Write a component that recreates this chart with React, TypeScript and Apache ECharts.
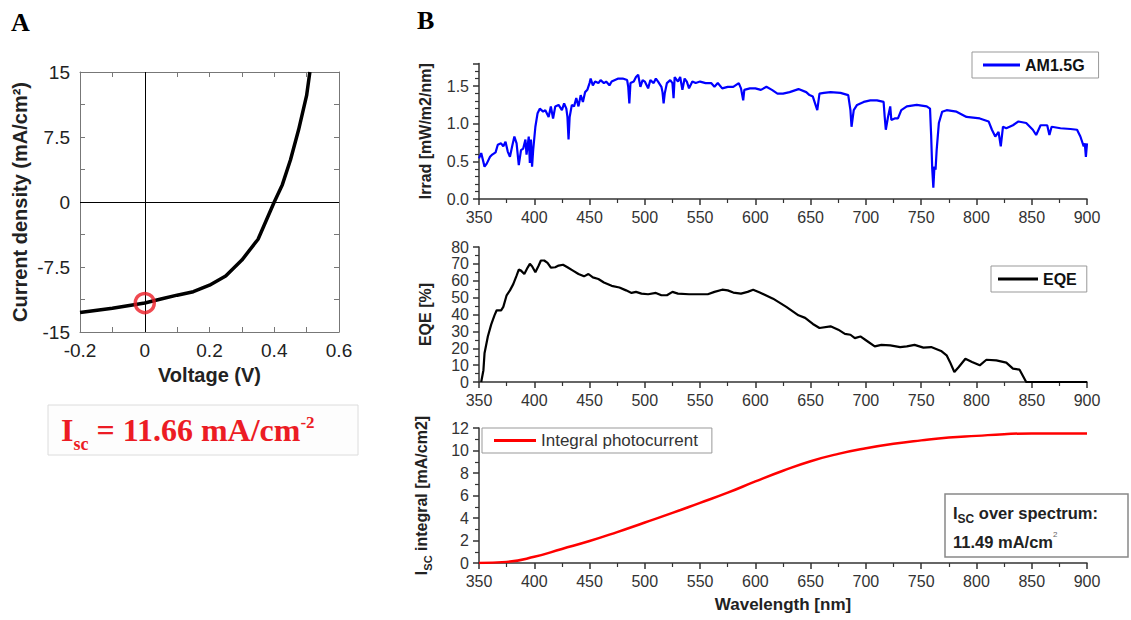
import React, { useEffect, useRef } from 'react';
import * as echarts from 'echarts';

// ---------- Panel A: J-V curve ----------
const jvVoltage = [-0.2, -0.1, 0, 0.05, 0.1, 0.15, 0.2, 0.25, 0.3, 0.35, 0.4, 0.425, 0.45, 0.475, 0.5, 0.51];
const jvCurrent = [-12.75, -12.25, -11.66, -11.2, -10.75, -10.35, -9.6, -8.54, -6.7, -4.3, 0, 2.0, 4.85, 8.3, 12.3, 15];
const iscPoint = [0, -11.66];

// ---------- Panel B top: AM1.5G irradiance ----------
const irradWl = [350, 352, 355, 357, 360, 362, 365, 367, 370, 372, 374, 376, 378, 380, 382, 384, 386, 388, 390, 392, 393, 395, 396, 397, 398, 399, 401, 403, 405, 408, 410, 413, 415, 417, 419, 422, 425, 427, 429, 430, 431, 432, 434, 436, 438, 440, 442, 444, 446, 448, 450, 451, 453, 455, 458, 460, 463, 465, 468, 470, 473, 476, 480, 484, 485, 486, 487, 490, 492, 494, 496, 498, 500, 503, 505, 508, 510, 512, 515, 516, 517, 518, 520, 523, 525, 526, 527, 530, 532, 534, 536, 538, 540, 543, 546, 550, 555, 560, 563, 566, 570, 575, 580, 585, 587, 589, 590, 595, 600, 605, 610, 615, 620, 625, 631, 639, 646, 649, 652, 656, 658, 662, 668, 677, 684, 686, 687, 689, 692, 698, 704, 710, 716, 717, 718, 720, 722, 723, 726, 729, 732, 737, 746, 755, 758, 759, 760, 761, 762, 763, 764, 766, 769, 773, 782, 791, 803, 811, 814, 817, 820, 822, 824, 827, 833, 838, 845, 851, 854, 858, 864, 866, 868, 876, 885, 891, 894, 897, 898, 899, 900];
const irradVal = [0.54, 0.61, 0.43, 0.47, 0.56, 0.59, 0.62, 0.72, 0.74, 0.70, 0.76, 0.63, 0.56, 0.70, 0.83, 0.74, 0.45, 0.65, 0.67, 0.79, 0.59, 0.83, 0.48, 0.79, 0.43, 0.65, 0.96, 1.14, 1.20, 1.16, 1.18, 1.09, 1.23, 1.07, 1.23, 1.25, 1.18, 1.27, 1.20, 1.09, 0.79, 1.09, 1.25, 1.23, 1.34, 1.23, 1.38, 1.29, 1.42, 1.45, 1.54, 1.60, 1.51, 1.56, 1.54, 1.58, 1.54, 1.56, 1.51, 1.56, 1.58, 1.60, 1.60, 1.58, 1.49, 1.27, 1.54, 1.56, 1.62, 1.65, 1.49, 1.58, 1.56, 1.47, 1.58, 1.54, 1.60, 1.56, 1.49, 1.42, 1.27, 1.40, 1.54, 1.58, 1.54, 1.34, 1.62, 1.56, 1.62, 1.45, 1.60, 1.56, 1.47, 1.56, 1.54, 1.56, 1.54, 1.54, 1.49, 1.54, 1.47, 1.49, 1.49, 1.54, 1.47, 1.31, 1.45, 1.47, 1.47, 1.45, 1.49, 1.45, 1.40, 1.40, 1.42, 1.46, 1.42, 1.38, 1.36, 1.18, 1.40, 1.41, 1.42, 1.41, 1.38, 1.18, 0.96, 1.18, 1.25, 1.29, 1.31, 1.31, 1.29, 1.09, 0.92, 1.09, 1.23, 1.05, 1.07, 1.07, 1.18, 1.23, 1.25, 1.23, 1.20, 0.85, 0.40, 0.15, 0.43, 0.39, 0.65, 1.01, 1.16, 1.18, 1.16, 1.09, 1.07, 1.03, 0.92, 0.83, 0.89, 0.70, 0.96, 0.94, 0.98, 1.03, 1.01, 0.92, 0.85, 0.98, 0.98, 0.85, 0.96, 0.94, 0.93, 0.92, 0.83, 0.70, 0.74, 0.56, 0.74];

// ---------- Panel B middle: EQE ----------
const eqeWl = [352, 354, 355, 358, 361, 364, 366, 370, 372, 375, 378, 381, 384, 386, 388, 391, 394, 396, 398, 401, 404, 406, 409, 412, 415, 419, 422, 426, 430, 435, 440, 445, 449, 453, 458, 463, 470, 477, 483, 488, 492, 497, 503, 510, 515, 520, 525, 530, 540, 550, 557, 563, 570, 575, 580, 587, 593, 598, 604, 616, 628, 639, 645, 652, 658, 668, 675, 681, 686, 690, 695, 701, 708, 714, 722, 731, 737, 744, 752, 759, 768, 773, 776, 780, 784, 790, 796, 803, 809, 818, 827, 833, 839, 845, 900];
const eqeVal = [0, 7, 17, 27, 34, 39.5, 42.5, 42.5, 44.5, 51.4, 54.3, 58, 63, 66.6, 66, 64, 67.8, 70, 68.6, 65, 69, 72, 72, 70.6, 67.8, 68, 69, 69.5, 68, 66, 64, 62.6, 64, 62, 61, 59, 57, 56, 54.3, 52.8, 53.4, 52.4, 52, 52.8, 51.4, 51.4, 53.4, 52.4, 52, 52, 52, 53.4, 54.7, 54.3, 53, 52.4, 53.4, 54.7, 53, 49.4, 44.5, 39.5, 38, 34.4, 32, 33, 31, 28.5, 28, 26, 27, 24.3, 21.1, 22, 21.7, 20.7, 21.1, 22, 20.4, 20.7, 18.4, 15.8, 11.9, 5.9, 8.9, 13.8, 11.9, 9.9, 13.2, 12.8, 11.5, 7.9, 7.3, 0, 0];

// ---------- Panel B bottom: integral photocurrent ----------
const intWl = [350, 375, 400, 425, 450, 475, 500, 525, 550, 575, 600, 625, 650, 675, 700, 725, 750, 775, 800, 825, 850, 875, 900];
const intVal = [0, 0.1, 0.55, 1.25, 1.95, 2.75, 3.6, 4.45, 5.35, 6.25, 7.25, 8.2, 9.05, 9.7, 10.2, 10.6, 10.9, 11.15, 11.3, 11.45, 11.52, 11.52, 11.52];

const zip = (xs: number[], ys: number[]) => xs.map((x, i) => [x, ys[i]]);

const SANS = '"Liberation Sans", Arial, Helvetica, sans-serif';
const SERIF = '"Liberation Serif", "Times New Roman", serif';
const RED = '#ec1c24';

const aAxisCommon = {
  axisLine: { show: true, onZero: false, lineStyle: { color: '#777', width: 1 } },
  axisTick: { show: true, inside: true, length: 5, lineStyle: { color: '#777', width: 1 } },
  splitLine: { show: false },
};

const bXAxis = (gridIndex: number, withName: boolean) => ({
  type: 'value',
  gridIndex,
  min: 350,
  max: 900,
  interval: 50,
  axisLine: { show: true, onZero: false, lineStyle: { color: '#333', width: 1.5 } },
  axisTick: { show: true, inside: false, length: 6, lineStyle: { color: '#333', width: 1.5 } },
  minorTick: { show: true, splitNumber: 2, length: 4, lineStyle: { color: '#333', width: 1.2 } },
  splitLine: { show: false },
  axisLabel: { fontFamily: SANS, fontSize: 16, color: '#333', margin: 10 },
  ...(withName
    ? {
        name: 'Wavelength [nm]',
        nameLocation: 'middle',
        nameGap: 33,
        nameTextStyle: { fontFamily: SANS, fontSize: 17, fontWeight: 'bold', color: '#222' },
      }
    : {}),
});

const bYAxis = (gridIndex: number, min: number, max: number, interval: number, minorSplit: number, extra: any) => ({
  type: 'value',
  gridIndex,
  min,
  max,
  interval,
  axisLine: { show: true, onZero: false, lineStyle: { color: '#333', width: 1.5 } },
  axisTick: { show: true, inside: false, length: 6, lineStyle: { color: '#333', width: 1.5 } },
  minorTick: { show: true, splitNumber: minorSplit, length: 4, lineStyle: { color: '#333', width: 1.2 } },
  splitLine: { show: false },
  nameLocation: 'middle',
  nameGap: 46,
  ...extra,
});

const legendBase = {
  orient: 'horizontal',
  selectedMode: false,
  borderColor: '#999',
  borderWidth: 1,
  borderRadius: 0,
  backgroundColor: '#fff',
  itemGap: 0,
  icon: 'rect',
  itemHeight: 3,
};

const option: any = {
  animation: false,
  backgroundColor: '#fff',
  grid: [
    { left: 80, top: 72, width: 259, height: 260 },
    { left: 479, top: 63.5, width: 608, height: 135.5 },
    { left: 479, top: 247, width: 608, height: 135 },
    { left: 479, top: 428, width: 608, height: 135 },
  ],
  xAxis: [
    {
      type: 'value',
      gridIndex: 0,
      position: 'bottom',
      min: -0.2,
      max: 0.6,
      interval: 0.1,
      ...aAxisCommon,
      axisLabel: {
        fontFamily: SANS,
        fontSize: 19,
        color: '#222',
        margin: 9,
        formatter: (v: number) => {
          const k = Math.round(v * 10);
          if (k % 2 !== 0) return '';
          return k === 0 ? '0' : (k / 10).toFixed(1);
        },
      },
      name: 'Voltage (V)',
      nameLocation: 'middle',
      nameGap: 33,
      nameTextStyle: { fontFamily: SANS, fontSize: 20, fontWeight: 'bold', color: '#222' },
    },
    {
      type: 'value',
      gridIndex: 0,
      position: 'top',
      min: -0.2,
      max: 0.6,
      interval: 0.1,
      ...aAxisCommon,
      axisLabel: { show: false },
    },
    bXAxis(1, false),
    bXAxis(2, false),
    bXAxis(3, true),
  ],
  yAxis: [
    {
      type: 'value',
      gridIndex: 0,
      position: 'left',
      min: -15,
      max: 15,
      interval: 3.75,
      ...aAxisCommon,
      axisLabel: {
        fontFamily: SANS,
        fontSize: 19,
        color: '#222',
        margin: 10,
        formatter: (v: number) => {
          const k = Math.round(v / 3.75);
          if (k % 2 !== 0) return '';
          return String(Math.round(v * 10) / 10);
        },
      },
    },
    {
      type: 'value',
      gridIndex: 0,
      position: 'right',
      min: -15,
      max: 15,
      interval: 3.75,
      ...aAxisCommon,
      axisLabel: { show: false },
    },
    bYAxis(1, 0, 1.8, 0.5, 5, {
      axisLabel: {
        fontFamily: SANS,
        fontSize: 16,
        color: '#333',
        margin: 10,
        formatter: (v: number) => (Math.abs(v * 2 - Math.round(v * 2)) < 1e-6 ? v.toFixed(1) : ''),
      },
      name: 'Irrad [mW/m2/nm]',
      nameTextStyle: { fontFamily: SANS, fontSize: 16, fontWeight: 'bold', color: '#222' },
    }),
    bYAxis(2, 0, 80, 10, 2, {
      axisLabel: { fontFamily: SANS, fontSize: 16, color: '#333', margin: 10 },
      name: 'EQE [%]',
      nameTextStyle: { fontFamily: SANS, fontSize: 16, fontWeight: 'bold', color: '#222' },
    }),
    bYAxis(3, 0, 12, 2, 2, {
      axisLabel: { fontFamily: SANS, fontSize: 16, color: '#333', margin: 10 },
      name: '{b|I}{s|SC}{b| integral [mA/cm2]}',
      nameTextStyle: {
        color: '#222',
        rich: {
          b: { fontFamily: SANS, fontSize: 16, fontWeight: 'bold', color: '#222', lineHeight: 24 },
          s: { fontFamily: SANS, fontSize: 11, fontWeight: 'bold', color: '#222', verticalAlign: 'bottom' },
        },
      },
    }),
  ],
  legend: [
    {
      ...legendBase,
      data: ['AM1.5G'],
      left: 972,
      top: 52,
      padding: [5, 14, 5, 11],
      itemWidth: 37,
      textStyle: { fontFamily: SANS, fontSize: 16, fontWeight: 'bold', color: '#111' },
    },
    {
      ...legendBase,
      data: ['EQE'],
      left: 991,
      top: 266,
      padding: [5, 10, 5, 7],
      itemWidth: 40,
      textStyle: { fontFamily: SANS, fontSize: 16, fontWeight: 'bold', color: '#111' },
    },
    {
      ...legendBase,
      data: ['Integral photocurrent'],
      left: 482,
      top: 428,
      padding: [4, 14, 4, 12],
      itemWidth: 42,
      textStyle: { fontFamily: SANS, fontSize: 17, color: '#333' },
    },
  ],
  series: [
    {
      type: 'line',
      name: 'J-V',
      xAxisIndex: 0,
      yAxisIndex: 0,
      data: zip(jvVoltage, jvCurrent),
      symbol: 'none',
      showSymbol: false,
      lineStyle: { color: '#000', width: 3.5 },
      z: 3,
      markLine: {
        silent: true,
        symbol: ['none', 'none'],
        label: { show: false },
        lineStyle: { color: '#000', width: 1, type: 'solid' },
        data: [{ xAxis: 0 }, { yAxis: 0 }],
      },
    },
    {
      type: 'scatter',
      name: 'Isc',
      xAxisIndex: 0,
      yAxisIndex: 0,
      data: [iscPoint],
      symbol: 'circle',
      symbolSize: 19,
      itemStyle: { color: 'rgba(0,0,0,0)', borderColor: RED, borderWidth: 3.5 },
      z: 5,
    },
    {
      type: 'line',
      name: 'AM1.5G',
      xAxisIndex: 2,
      yAxisIndex: 2,
      data: zip(irradWl, irradVal),
      symbol: 'none',
      showSymbol: false,
      color: '#0000ff',
      lineStyle: { color: '#0000ff', width: 2.2 },
    },
    {
      type: 'line',
      name: 'EQE',
      xAxisIndex: 3,
      yAxisIndex: 3,
      data: zip(eqeWl, eqeVal),
      symbol: 'none',
      showSymbol: false,
      color: '#000',
      lineStyle: { color: '#000', width: 2.2 },
    },
    {
      type: 'line',
      name: 'Integral photocurrent',
      xAxisIndex: 4,
      yAxisIndex: 4,
      data: zip(intWl, intVal),
      smooth: true,
      symbol: 'none',
      showSymbol: false,
      color: '#ff0000',
      lineStyle: { color: '#ff0000', width: 2.5 },
    },
  ],
  graphic: [
    {
      type: 'text',
      left: 11,
      top: 9,
      style: { text: 'A', font: `bold 26px ${SERIF}`, fill: '#000' },
    },
    {
      type: 'text',
      left: 417,
      top: 7,
      style: { text: 'B', font: `bold 26px ${SERIF}`, fill: '#000' },
    },
    {
      type: 'text',
      x: 20,
      y: 202,
      rotation: Math.PI / 2,
      style: {
        text: 'Current density (mA/cm²)',
        font: `bold 20px ${SANS}`,
        fill: '#222',
        align: 'center',
        verticalAlign: 'middle',
      },
    },
    {
      type: 'rect',
      shape: { x: 48, y: 405, width: 310, height: 50 },
      style: { fill: '#fdfdfd', stroke: '#dcdcdc', lineWidth: 1 },
    },
    {
      type: 'text',
      x: 61,
      y: 430,
      style: {
        text: '{m|I}{sub|sc}{m| = 11.66 mA/cm}{sup|-2}',
        verticalAlign: 'middle',
        rich: {
          m: { fontFamily: SERIF, fontSize: 32, fontWeight: 'bold', fill: RED, lineHeight: 46 },
          sub: { fontFamily: SERIF, fontSize: 18, fontWeight: 'bold', fill: RED, verticalAlign: 'bottom' },
          sup: { fontFamily: SERIF, fontSize: 17, fontWeight: 'bold', fill: RED, verticalAlign: 'top', padding: [7, 0, 0, 0] },
        },
      },
    },
    {
      type: 'rect',
      shape: { x: 945, y: 494, width: 183, height: 63 },
      style: { fill: '#fff', stroke: '#888', lineWidth: 1.5 },
    },
    {
      type: 'text',
      x: 953,
      y: 513,
      style: {
        text: '{b|I}{s|SC}{b| over spectrum:}',
        verticalAlign: 'middle',
        rich: {
          b: { fontFamily: SANS, fontSize: 16.5, fontWeight: 'bold', fill: '#222', lineHeight: 24 },
          s: { fontFamily: SANS, fontSize: 12, fontWeight: 'bold', fill: '#222', verticalAlign: 'bottom' },
        },
      },
    },
    {
      type: 'text',
      x: 953,
      y: 542,
      style: {
        text: '{b|11.49 mA/cm}{sup|2}',
        verticalAlign: 'middle',
        rich: {
          b: { fontFamily: SANS, fontSize: 16.5, fontWeight: 'bold', fill: '#222', lineHeight: 24 },
          sup: { fontFamily: SANS, fontSize: 8, fill: '#666', verticalAlign: 'top' },
        },
      },
    },
  ],
};

export default function App() {
  const ref = useRef<HTMLDivElement>(null);
  useEffect(() => {
    if (!ref.current) return;
    const chart = echarts.init(ref.current, undefined, { renderer: 'svg' });
    chart.setOption(option);
    return () => chart.dispose();
  }, []);
  return (
    <div
      ref={ref}
      style={{ position: 'fixed', left: 0, top: 0, width: 1131, height: 620, background: '#fff' }}
    />
  );
}
